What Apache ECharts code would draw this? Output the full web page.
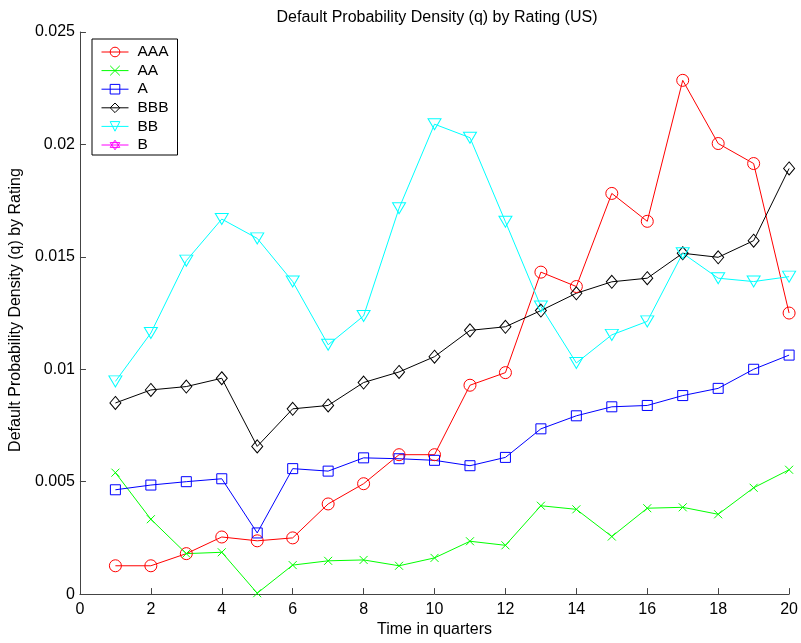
<!DOCTYPE html>
<html><head><meta charset="utf-8">
<script src="https://cdn.jsdelivr.net/npm/echarts@6/dist/echarts.min.js"></script>
<style>html,body{margin:0;padding:0;background:#fff}#c{width:801px;height:643px}</style>
</head><body><div id="c"></div>
<script>
const quarters = [1,2,3,4,5,6,7,8,9,10,11,12,13,14,15,16,17,18,19,20];
const AAA = [0.00126,0.00126,0.00180,0.00254,0.00237,0.00250,0.00401,0.00491,0.00620,0.00620,0.00929,0.00985,0.01432,0.01368,0.01782,0.01658,0.02285,0.02004,0.01915,0.01250];
const AA  = [0.00540,0.00333,0.00180,0.00186,0.00004,0.00129,0.00148,0.00152,0.00126,0.00161,0.00235,0.00217,0.00393,0.00377,0.00256,0.00382,0.00386,0.00355,0.00473,0.00553];
const A   = [0.00464,0.00485,0.00500,0.00513,0.00272,0.00558,0.00547,0.00606,0.00602,0.00595,0.00571,0.00608,0.00735,0.00793,0.00833,0.00839,0.00883,0.00915,0.01000,0.01063];
const BBB = [0.00850,0.00908,0.00923,0.00960,0.00657,0.00824,0.00839,0.00941,0.00988,0.01056,0.01173,0.01189,0.01261,0.01338,0.01389,0.01405,0.01516,0.01498,0.01572,0.01893];
const BB  = [0.00946,0.01161,0.01483,0.01668,0.01582,0.01390,0.01109,0.01237,0.01716,0.02090,0.02030,0.01656,0.01279,0.01028,0.01153,0.01213,0.01516,0.01405,0.01390,0.01412];
const B   = [];
const seriesNames = ['AAA','AA','A','BBB','BB','B'];
const xTicks = [0,2,4,6,8,10,12,14,16,18,20];
const yTicks = [0,0.005,0.01,0.015,0.02,0.025];

const pairs = arr => arr.map((v,i)=>[quarters[i], v]);
const defs = [
  {data:AAA, color:'#ff0000', symbol:'circle', size:12},
  {data:AA,  color:'#00ff00', symbol:'path://M0,0L10,10M10,0L0,10', size:8},
  {data:A,   color:'#0000ff', symbol:'rect', size:10},
  {data:BBB, color:'#000000', symbol:'diamond', size:[11,13]},
  {data:BB,  color:'#00ffff', symbol:'path://M0,0L10,0L5,8.66Z', size:[13,11]},
  {data:B,   color:'#ff00ff', symbol:'path://M5,0L9.33,7.5L0.67,7.5Z M5,10L0.67,2.5L9.33,2.5Z', size:12}
];
const series = defs.map((d,i)=>({
  name: seriesNames[i], type:'line', data: pairs(d.data),
  symbol: d.symbol, symbolSize: d.size, showAllSymbol:true,
  lineStyle:{color:d.color, width:1},
  itemStyle:{color:'rgba(0,0,0,0)', borderColor:d.color, borderWidth:1},
  emphasis:{disabled:true}, animation:false
}));

const FF = 'Liberation Sans, Arial, sans-serif';
const chart = echarts.init(document.getElementById('c'), null, {renderer:'canvas'});
const fmt = v => String(+(+v).toFixed(4));
chart.setOption({
  backgroundColor:'#fff',
  animation:false,
  title:{text:'Default Probability Density (q) by Rating (US)', left:432, textAlign:'center', top:5,
    textStyle:{fontFamily:FF, fontSize:16, fontWeight:'normal', color:'#000'}},
  grid:{left:77, right:10, top:32, bottom:48},
  legend:{orient:'vertical', left:92, top:39, data:seriesNames,
    backgroundColor:'#fff', borderColor:'#000', borderWidth:1, borderRadius:0,
    padding:[5,9,2,9], itemWidth:27, itemHeight:12, itemGap:2.6,
    lineStyle:{width:1}, itemStyle:{borderWidth:1},
    textStyle:{fontFamily:FF, fontSize:15.5, color:'#000', padding:[0,0,0,4]}},
  xAxis:{type:'value', min:xTicks[0], max:xTicks[xTicks.length-1], interval:2,
    name:'Time in quarters', nameLocation:'middle', nameGap:24,
    nameTextStyle:{fontFamily:FF, fontSize:16, color:'#000'},
    axisLine:{lineStyle:{color:'#444'}}, axisTick:{inside:true, length:6, lineStyle:{color:'#444'}},
    axisLabel:{fontFamily:FF, fontSize:16, color:'#000', margin:7},
    splitLine:{show:false}},
  yAxis:{type:'value', min:yTicks[0], max:yTicks[yTicks.length-1], interval:0.005,
    name:'Default Probability Density (q) by Rating', nameLocation:'middle', nameGap:50, nameRotate:90,
    nameTextStyle:{fontFamily:FF, fontSize:16, color:'#000', padding:[0,0,0,6]},
    axisLine:{show:true, lineStyle:{color:'#444'}}, axisTick:{show:true, inside:true, length:6, lineStyle:{color:'#444'}},
    axisLabel:{fontFamily:FF, fontSize:16, color:'#000', margin:5, formatter:fmt},
    splitLine:{show:false}},
  series: series
});
</script></body></html>
